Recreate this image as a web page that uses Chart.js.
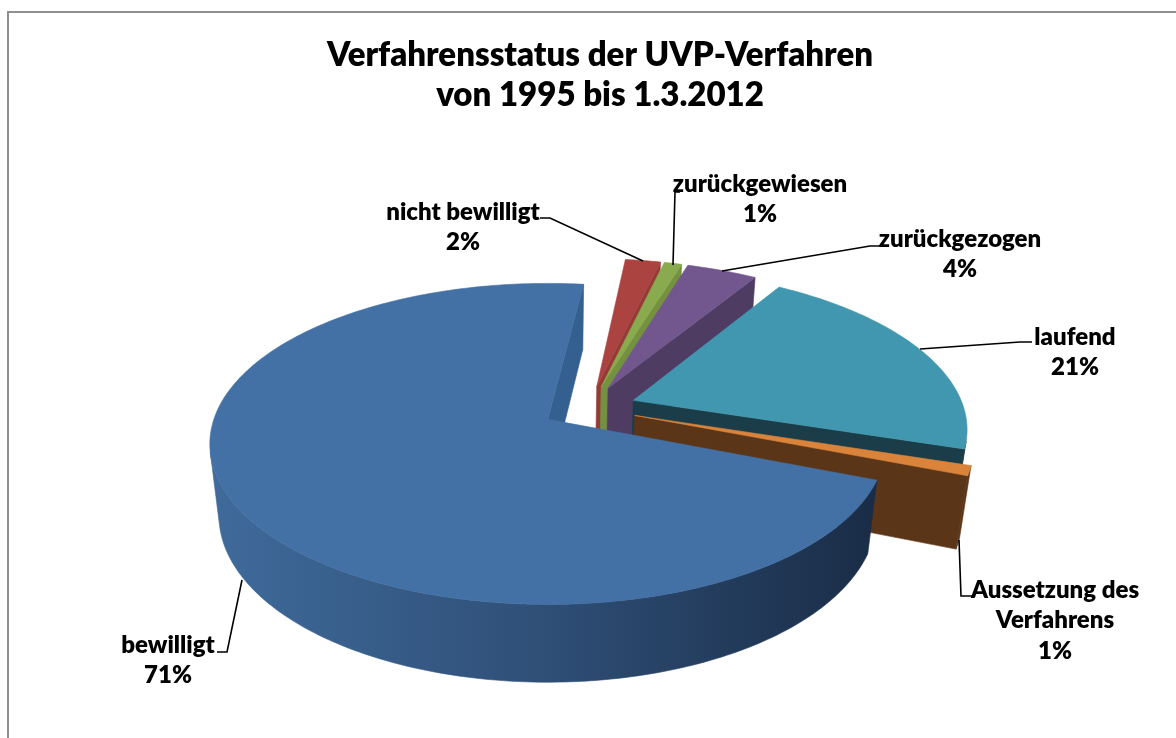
<!DOCTYPE html>
<html lang="de">
<head>
<meta charset="utf-8">
<title>Verfahrensstatus der UVP-Verfahren</title>
<script src="https://cdn.jsdelivr.net/npm/chart.js@4"></script>
<style>html,body{margin:0;padding:0;background:#fff}canvas{display:block}</style>
</head>
<body>
<canvas id="c" width="1176" height="738"></canvas>
<script>
const titleLines = ["Verfahrensstatus der UVP-Verfahren", "von 1995 bis 1.3.2012"];
const categories = ["bewilligt", "nicht bewilligt", "zurückgewiesen", "zurückgezogen", "laufend", "Aussetzung des Verfahrens"];
const shares = [71, 2, 1, 4, 21, 1];
const topColors = ["#4371A6", "#AB4340", "#89AA4F", "#72578F", "#4197AF", "#D9833B"];
const wallColors = ["#34608F", "#953A37", "#74913F", "#4F3C63", "#1B3D49", "#5B3518"];

// Perspective camera of the tilted pie (fitted to the reference)
const camera = { x: 548, y: 419.5, rx: 334, ry: 156.8, tilt: 0.153, depth: 73, depthTilt: 0.027, cx: 0.124, cy: 0.075 };
// Label layout: text lines centred at x, first line at y; leader polyline
const labelLayout = [
  { x: 168, y: 645, lines: ["bewilligt"], path: [[242,580],[227,652],[217,652]] },
  { x: 463, y: 212, lines: ["nicht bewilligt"], path: [[643,261],[550,218],[540,218]] },
  { x: 760, y: 184, lines: ["zurückgewiesen"], path: [[673,265],[675,192],[680,192]] },
  { x: 960, y: 239, lines: ["zurückgezogen"], path: [[722,271],[870,246],[880,246]] },
  { x: 1075, y: 337, lines: ["laufend"], path: [[920,349],[1020,342],[1032,342]] },
  { x: 1055, y: 590, lines: ["Aussetzung des", "Verfahrens"], path: [[959,540],[961,596],[972,596]] }
];
const LINE_HEIGHT = 30.5;
const FONT = "Lato, Carlito, 'Open Sans', sans-serif";

function project(X, Y, Z) {
  const c = camera;
  const w = 1 + c.tilt * Y + c.depthTilt * Z;
  return [c.x + c.rx * X / w, c.y + (-c.ry * Y + c.depth * Z) / w];
}
function poly(ctx, pts, fill) {
  ctx.beginPath();
  pts.forEach((p, i) => i ? ctx.lineTo(p[0], p[1]) : ctx.moveTo(p[0], p[1]));
  ctx.closePath();
  ctx.fillStyle = fill; ctx.strokeStyle = fill; ctx.lineWidth = 0.6; ctx.lineJoin = "round";
  ctx.fill(); ctx.stroke();
}
function area(q) {
  let s = 0;
  q.forEach((p, i) => { const n = q[(i + 1) % q.length]; s += p[0] * n[1] - n[0] * p[1]; });
  return s / 2;
}
const pie3d = {
  id: "pie3d",
  beforeDatasetsDraw(chart) {
    const ctx = chart.ctx, arcs = chart.getDatasetMeta(0).data;
    const order = arcs.map((el, i) => {
      const mid = (el.startAngle + el.endAngle) / 2;
      return { el, i, mid };
    }).sort((a, b) => Math.sin(a.mid) - Math.sin(b.mid));
    ctx.save();
    for (const { el, i, mid } of order) {
      const off = el.options.offset / el.outerRadius;
      const ax = camera.cx + off * Math.cos(mid), ay = camera.cy - off * Math.sin(mid);
      const outline = [[ax, ay]];
      const steps = Math.max(2, Math.ceil((el.endAngle - el.startAngle) * 180 / Math.PI));
      for (let s = 0; s <= steps; s++) {
        const a = el.startAngle + (el.endAngle - el.startAngle) * s / steps;
        outline.push([ax + Math.cos(a), ay - Math.sin(a)]);
      }
      const n = outline.length;
      let rimFill = wallColors[i];
      if (i === 0) {
        const g = ctx.createLinearGradient(215, 0, 870, 0);
        g.addColorStop(0, "#3F6A9A"); g.addColorStop(0.5, "#2F4F77"); g.addColorStop(1, "#1A2D47");
        rimFill = g;
      }
      const flush = run => {
        if (!run.length) return;
        const tops = run.map(p => project(p[0], p[1], 0));
        const bots = run.map(p => project(p[0], p[1], 1)).reverse();
        poly(ctx, tops.concat(bots), rimFill);
      };
      let run = [];
      for (let k = 0; k < n; k++) {
        const a = outline[k], b = outline[(k + 1) % n];
        const quad = [project(a[0], a[1], 0), project(b[0], b[1], 0), project(b[0], b[1], 1), project(a[0], a[1], 1)];
        const visible = area(quad) < 0;
        const isCut = k === 0 || k === n - 1;
        if (isCut) {
          if (visible) poly(ctx, quad, wallColors[i]);
        } else if (visible) {
          if (!run.length) run.push(a);
          run.push(b);
        } else {
          flush(run); run = [];
        }
        if (k === n - 2) { flush(run); run = []; }
      }
      poly(ctx, outline.map(p => project(p[0], p[1], 0)), topColors[i]);
    }
    ctx.restore();
    return false;
  },
  afterDraw(chart) {
    const ctx = chart.ctx;
    ctx.save();
    ctx.strokeStyle = "#8E8E8E"; ctx.lineWidth = 2;
    ctx.beginPath(); ctx.moveTo(8, 740); ctx.lineTo(8, 12); ctx.lineTo(1178, 12); ctx.stroke();
    ctx.font = "800 24px " + FONT; ctx.textAlign = "center"; ctx.textBaseline = "middle"; ctx.fillStyle = "#000";
    labelLayout.forEach((l, i) => {
      ctx.strokeStyle = "#000"; ctx.lineWidth = 1.6;
      ctx.beginPath();
      l.path.forEach((p, k) => k ? ctx.lineTo(p[0], p[1]) : ctx.moveTo(p[0], p[1]));
      ctx.stroke();
      const lines = l.lines.concat([shares[i] + "%"]);
      lines.forEach((t, k) => ctx.fillText(t, l.x, l.y + k * LINE_HEIGHT));
    });
    ctx.restore();
  }
};
new Chart(document.getElementById("c"), {
  type: "pie",
  data: { labels: categories, datasets: [{ data: shares, backgroundColor: topColors, offset: 43.5, borderWidth: 0 }] },
  plugins: [pie3d],
  options: {
    responsive: false, animation: false, rotation: 111.5, radius: 300,
    layout: { padding: { left: 24 } },
    plugins: {
      legend: { display: false }, tooltip: { enabled: false },
      title: { display: true, text: titleLines, color: "#000", font: { family: FONT, size: 33, weight: "800", lineHeight: 1.21 }, padding: { top: 35, bottom: 10 } }
    }
  }
});
</script>
</body>
</html>
